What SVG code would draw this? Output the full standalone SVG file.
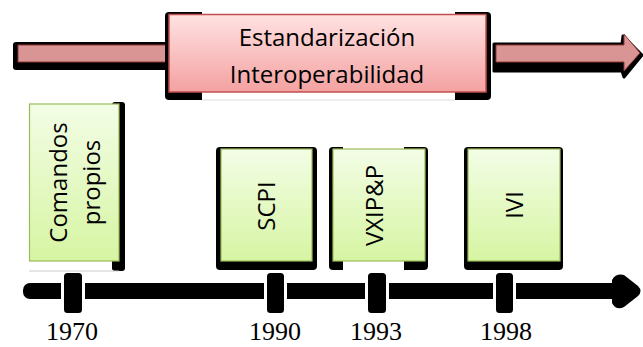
<svg xmlns="http://www.w3.org/2000/svg" width="643" height="347" viewBox="0 0 643 347">
<defs>
<linearGradient id="gGreen" x1="0" y1="0" x2="0" y2="1">
<stop offset="0" stop-color="#f3fde6"/>
<stop offset="1" stop-color="#d6f5a2"/>
</linearGradient>
<linearGradient id="gPink" x1="0" y1="0" x2="0" y2="1">
<stop offset="0" stop-color="#ffe2e2"/>
<stop offset="1" stop-color="#f4a1a1"/>
</linearGradient>
<style>
.sh{fill:#000}
.wh{fill:#fff}
.gbox{fill:url(#gGreen);stroke:#9bbb59;stroke-width:1.2}
.pbox{fill:url(#gPink);stroke:#c0504d;stroke-width:1.5}
.bar{fill:#d99594;stroke:#8c3a38;stroke-width:1}
.lbl{font-family:"Open Sans","Noto Sans",sans-serif;font-size:24px;fill:#000;text-anchor:middle}
.yr{font-family:"Liberation Serif","Times New Roman",serif;font-size:26px;fill:#000;text-anchor:middle}
.tick{fill:#000;stroke:#fff;stroke-width:3}
</style>
</defs>
<rect width="643" height="347" fill="#fff"/>

<g id="connectors">
<rect class="sh" x="13" y="42" width="160" height="28" rx="3"/>
<rect class="bar" x="18" y="45" width="155" height="17"/>
<path class="sh" d="M494,44 L622,44 L623,36 L642,55 L624,77 L622,71 L494,71 Z" stroke="#000" stroke-width="3" stroke-linejoin="round"/>
<path class="bar" d="M496,45 L624,45 L624,34 L640,53 L624,71 L624,62 L496,62 Z"/>
<rect class="sh" x="23" y="283" width="597" height="16" rx="7"/>
<path class="sh" d="M612,280 Q616,273 624,275 L638,286 Q643,291 638,296 L624,307 Q616,311 612,303 Z"/>
<rect class="tick" x="62.5" y="271.5" width="21" height="43" rx="5"/>
<rect class="tick" x="265.5" y="271.5" width="20" height="43" rx="5"/>
<rect class="tick" x="366.5" y="271.5" width="21" height="43" rx="5"/>
<rect class="tick" x="494.5" y="271.5" width="20" height="43" rx="5"/>
</g>

<g id="node-estandarizacion">
<rect class="sh" x="165" y="12" width="326" height="88" rx="4"/>
<rect class="wh" x="202" y="10" width="253" height="4"/>
<rect class="wh" x="202" y="92" width="253" height="10"/>
<line x1="202" y1="100" x2="455" y2="100" stroke="#ddd" stroke-width="1"/>
<rect class="pbox" x="169" y="14.5" width="317" height="77.5"/>
<text class="lbl" x="327" y="46">Estandarización</text>
<text class="lbl" x="327" y="83">Interoperabilidad</text>
</g>

<g id="node-comandos">
<rect class="sh" x="112" y="102" width="13" height="169" rx="3"/>
<line x1="29" y1="271" x2="119" y2="271" stroke="#ccc" stroke-width="1"/>
<rect class="gbox" x="29.5" y="104" width="89.5" height="157"/>
<g transform="translate(74,182.5) rotate(-90)">
<text class="lbl" x="0" y="-7">Comandos</text>
<text class="lbl" x="0" y="26">propios</text>
</g>
</g>

<g id="node-scpi">
<rect class="sh" x="216" y="147" width="101" height="123" rx="4"/>
<rect class="gbox" x="221" y="149" width="91" height="112"/>
<text class="lbl" transform="translate(275,206) rotate(-90)" x="0" y="0">SCPI</text>
</g>

<g id="node-vxipp">
<rect class="sh" x="329" y="147" width="99" height="123" rx="4"/>
<rect class="wh" x="343" y="145" width="61" height="4"/>
<rect class="wh" x="343" y="261" width="61" height="11"/>
<rect class="gbox" x="333" y="149" width="92" height="112"/>
<text class="lbl" transform="translate(383,205.5) rotate(-90)" x="0" y="0">VXIP&amp;P</text>
</g>

<g id="node-ivi">
<rect class="sh" x="464" y="147" width="99" height="123" rx="4"/>
<rect class="gbox" x="468" y="149" width="92" height="112"/>
<text class="lbl" transform="translate(523,205) rotate(-90)" x="0" y="0">IVI</text>
</g>

<g id="years">
<text class="yr" x="72" y="340">1970</text>
<text class="yr" x="275" y="340">1990</text>
<text class="yr" x="376" y="340">1993</text>
<text class="yr" x="506" y="340">1998</text>
</g>
</svg>
